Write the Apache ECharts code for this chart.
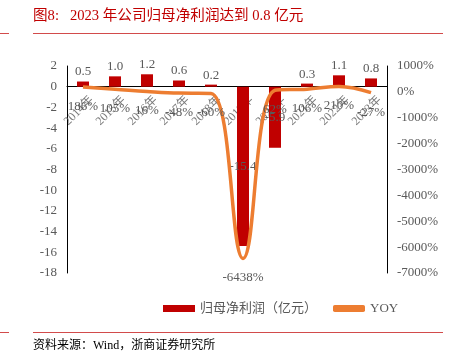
<!DOCTYPE html>
<html><head><meta charset="utf-8">
<script src="https://cdn.jsdelivr.net/npm/echarts@6/dist/echarts.min.js"></script>
<style>html,body{margin:0;padding:0;background:#fff;}#c{width:451px;height:353px;}</style>
</head><body><div id="c"></div>
<script>
const categories = ['2014年','2015年','2016年','2017年','2018年','2019年','2020年','2021年','2022年','2023年'];
const profit = [0.5, 1.0, 1.2, 0.6, 0.2, -15.4, -5.9, 0.3, 1.1, 0.8];
const yoy = [186, 105, 16, -48, -60, -6438, 62, 106, 210, -27];
const yoyLabels = ['186%','105%','16%','-48%','-60%','-6438%','62%','106%','210%','-27%'];

const FONT = '"Liberation Serif", "Times New Roman", "Noto Sans CJK SC", serif';
const GRAY = '#595959';
const RED = '#c00000';
const LINE_RED = '#d24b4b';

const chart = echarts.init(document.getElementById('c'));
chart.setOption({
  animation: false,
  textStyle: {fontFamily: FONT},
  grid: {left: 67, right: 64, top: 66, bottom: 80},
  xAxis: {
    type: 'category', data: categories,
    axisLine: {onZero: true, onZeroAxisIndex: 0, lineStyle: {color: '#000', width: 1}},
    axisTick: {show: false},
    axisLabel: {show: false}
  },
  yAxis: [
    {type: 'value', min: -18, max: 2, interval: 2,
     axisLine: {show: true, lineStyle: {color: '#000'}}, axisTick: {show: false},
     splitLine: {show: false},
     axisLabel: {color: GRAY, fontSize: 13, fontFamily: FONT, margin: 10}},
    {type: 'value', min: -7000, max: 1000, interval: 1000,
     axisLine: {show: true, lineStyle: {color: '#000'}}, axisTick: {show: false},
     splitLine: {show: false},
     axisLabel: {color: GRAY, fontSize: 13, fontFamily: FONT, margin: 10, formatter: v => v + '%'}}
  ],
  legend: {
    left: 158, top: 297, itemGap: 16, itemWidth: 32, itemHeight: 7,
    textStyle: {color: GRAY, fontSize: 13, fontFamily: FONT},
    data: [
      {name: '归母净利润（亿元）', icon: 'rect'},
      {name: 'YOY', icon: 'roundRect', itemStyle: {color: '#ed7d31'}}
    ]
  },
  series: [
    {
      name: '归母净利润（亿元）', type: 'bar', yAxisIndex: 0, barWidth: 12,
      itemStyle: {color: RED},
      data: profit.map(v => ({
        value: v,
        label: {show: true, position: v >= 0 ? 'top' : 'inside', distance: 3,
          color: GRAY, fontSize: 13, fontFamily: FONT, formatter: p => p.value.toFixed(1)}
      })),
      z: 2
    },
    {
      name: 'xlabels', type: 'scatter', yAxisIndex: 0, symbolSize: 0.1, silent: true,
      itemStyle: {color: 'rgba(0,0,0,0)'},
      label: {show: true, position: 'inside', offset: [-2, 14], rotate: 45, align: 'right', verticalAlign: 'middle',
        color: GRAY, fontSize: 12, fontFamily: FONT, formatter: p => categories[p.dataIndex]},
      data: categories.map(c => [c, 0]),
      z: 1
    },
    {
      name: 'YOY', type: 'line', yAxisIndex: 1, smooth: 0.4,
      showSymbol: true, symbol: 'circle', symbolSize: 0.1,
      lineStyle: {color: '#ed7d31', width: 3.5},
      itemStyle: {color: '#ed7d31'},
      label: {show: true, position: 'bottom', distance: 13, color: GRAY, fontSize: 13, fontFamily: FONT,
        formatter: p => yoyLabels[p.dataIndex]},
      data: yoy,
      z: 3
    }
  ],
  graphic: [
    {type: 'text', left: 33, top: 9, style: {text: '图8:   2023 年公司归母净利润达到 0.8 亿元', fill: RED, fontSize: 14.6, fontFamily: FONT}},
    {type: 'rect', shape: {x: 0, y: 33, width: 9, height: 1}, style: {fill: LINE_RED}},
    {type: 'rect', shape: {x: 33, y: 33, width: 410, height: 1}, style: {fill: LINE_RED}},
    {type: 'rect', shape: {x: 0, y: 332, width: 9, height: 1}, style: {fill: LINE_RED}},
    {type: 'rect', shape: {x: 33, y: 332, width: 410, height: 1}, style: {fill: LINE_RED}},
    {type: 'text', left: 33, top: 340, style: {text: '资料来源：Wind，浙商证券研究所', fill: '#000', fontSize: 12, fontFamily: FONT}}
  ]
});
</script></body></html>
